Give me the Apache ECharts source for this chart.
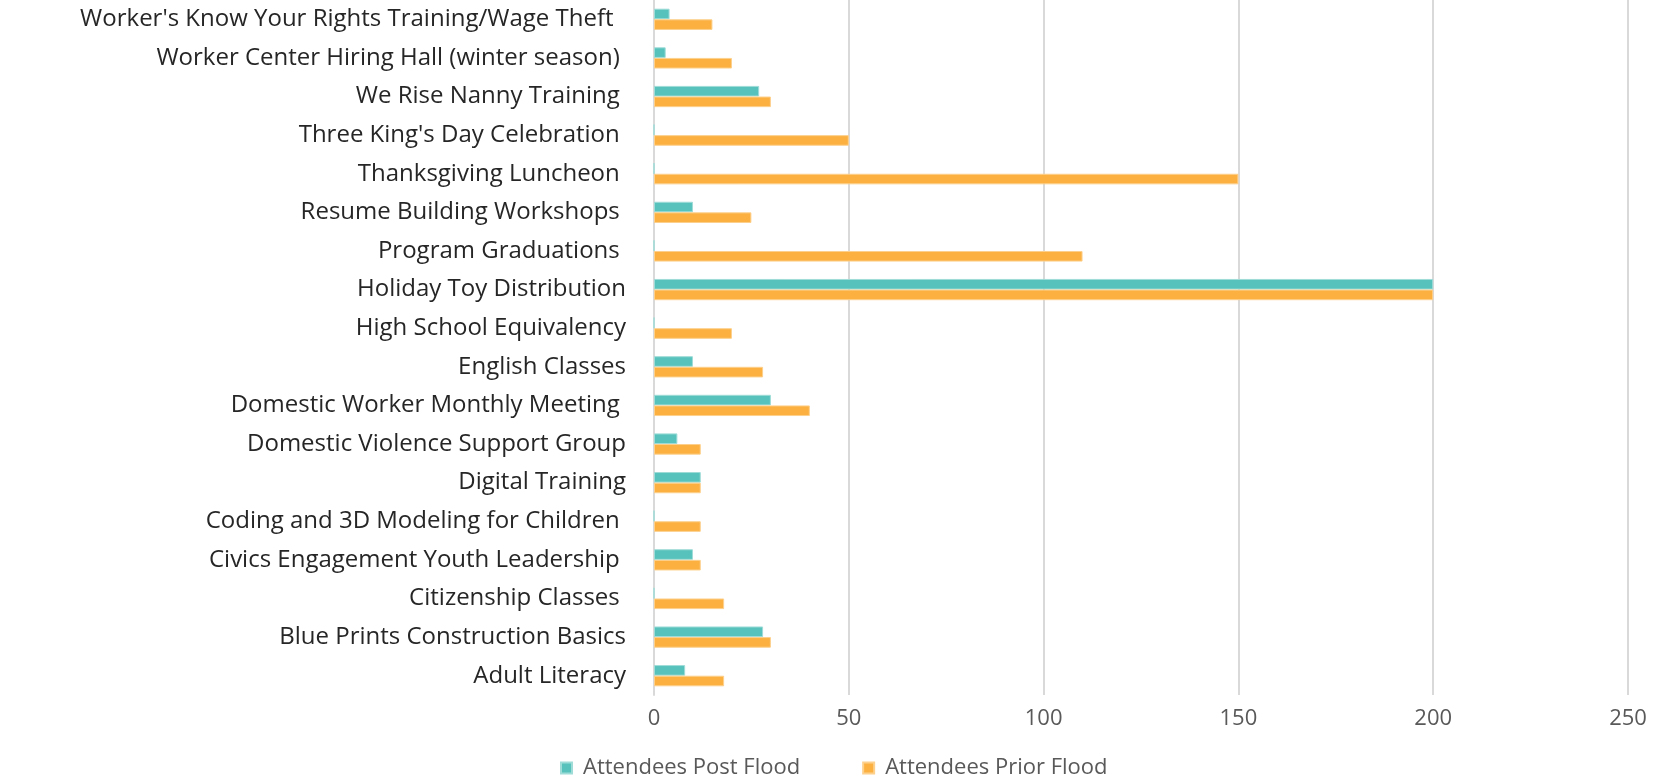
<!DOCTYPE html>
<html>
<head>
<meta charset="utf-8">
<title>Attendees Prior and Post Flood</title>
<script src="https://cdn.jsdelivr.net/npm/echarts@6/dist/echarts.min.js"></script>
<style>
  html, body { margin: 0; padding: 0; background: #fff; }
  #chart { width: 1663px; height: 779px; }
</style>
</head>
<body>
<div id="chart"></div>
<script>
// categories bottom to top (as in the picture, Adult Literacy at the bottom)
var programs = [
  'Adult Literacy',
  'Blue Prints Construction Basics',
  'Citizenship Classes ',
  'Civics Engagement Youth Leadership ',
  'Coding and 3D Modeling for Children ',
  'Digital Training',
  'Domestic Violence Support Group',
  'Domestic Worker Monthly Meeting ',
  'English Classes',
  'High School Equivalency',
  'Holiday Toy Distribution',
  'Program Graduations ',
  'Resume Building Workshops ',
  'Thanksgiving Luncheon ',
  "Three King's Day Celebration ",
  'We Rise Nanny Training ',
  'Worker Center Hiring Hall (winter season) ',
  "Worker's Know Your Rights Training/Wage Theft  "
];
var postFlood = [8, 28, 0, 10, 0, 12, 6, 30, 10, 0, 200, 0, 10, 0, 0, 27, 3, 4];
var priorFlood = [18, 30, 18, 12, 12, 12, 12, 40, 28, 20, 200, 110, 25, 150, 50, 30, 20, 15];
var seriesNames = ['Attendees Post Flood', 'Attendees Prior Flood'];
var colors = ['#57C2BC', '#FBB040'];

var chart = echarts.init(document.getElementById('chart'));
var font = '"Open Sans", sans-serif';

chart.setOption({
  animation: false,
  grid: { left: 654, right: 35, top: 0, bottom: 84, containLabel: false },
  legend: {
    data: seriesNames,
    left: 555,
    top: 752,
    itemWidth: 11,
    itemHeight: 11,
    itemGap: 62,
    icon: 'rect',
    textStyle: { fontFamily: font, fontSize: 22, color: '#595959', padding: [0, 0, 0, 6] }
  },
  xAxis: {
    type: 'value',
    min: 0,
    max: 250,
    interval: 50,
    axisLine: { show: false },
    axisTick: { show: false },
    splitLine: { lineStyle: { color: '#D9D9D9', width: 2 } },
    axisLabel: { fontFamily: font, fontSize: 22, color: '#595959', margin: 13 }
  },
  yAxis: {
    type: 'category',
    data: programs,
    axisLine: { lineStyle: { color: '#D9D9D9', width: 2 } },
    axisTick: { show: false },
    axisLabel: { fontFamily: font, fontSize: 24, color: '#262626', margin: 28 }
  },
  series: [
    {
      name: seriesNames[0], type: 'bar', data: postFlood,
      barGap: '0%', barCategoryGap: '45%',
      itemStyle: { color: colors[0], borderColor: '#9FDCD8', borderWidth: 1 }
    },
    {
      name: seriesNames[1], type: 'bar', data: priorFlood,
      itemStyle: { color: colors[1], borderColor: '#FDD08C', borderWidth: 1 }
    }
  ]
});
</script>
</body>
</html>
